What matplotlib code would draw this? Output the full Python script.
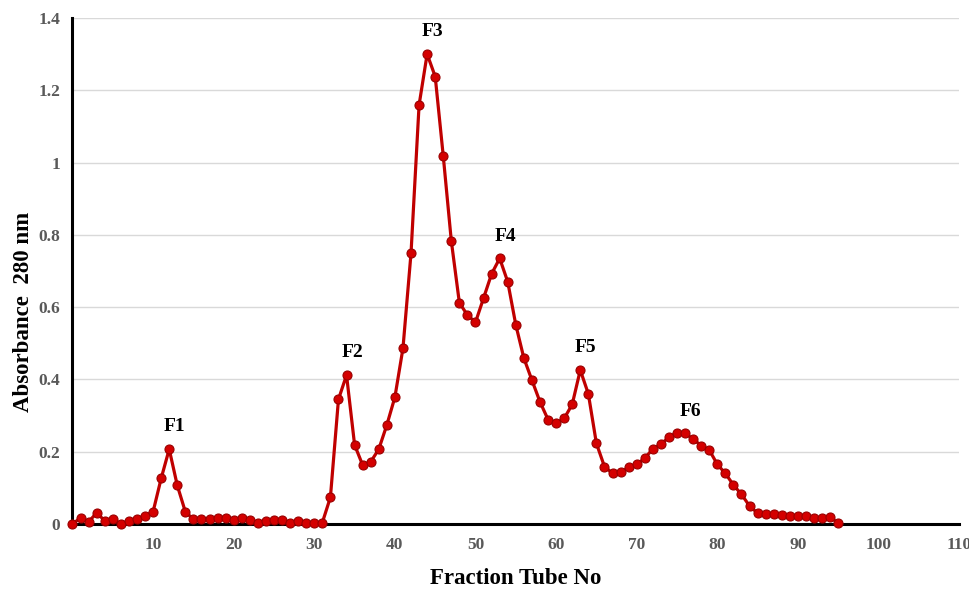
# gel filtration elution profile - absorbance at 280 nm per fraction tube
import matplotlib.pyplot as plt
import numpy as np

tubes = list(range(0, 96))
absorbance = [
    0.000, 0.017, 0.006, 0.031, 0.009, 0.014, 0.000, 0.008, 0.014, 0.023,
    0.034, 0.126, 0.207, 0.107, 0.034, 0.013, 0.013, 0.013, 0.017, 0.016,
    0.010, 0.017, 0.011, 0.004, 0.009, 0.010, 0.011, 0.004, 0.008, 0.004,
    0.004, 0.004, 0.074, 0.345, 0.412, 0.219, 0.163, 0.172, 0.207, 0.274,
    0.351, 0.486, 0.749, 1.159, 1.300, 1.238, 1.018, 0.783, 0.612, 0.578,
    0.558, 0.625, 0.692, 0.735, 0.670, 0.551, 0.459, 0.398, 0.338, 0.289,
    0.279, 0.292, 0.331, 0.426, 0.360, 0.223, 0.159, 0.140, 0.143, 0.157,
    0.165, 0.182, 0.208, 0.221, 0.240, 0.253, 0.251, 0.235, 0.217, 0.205,
    0.165, 0.140, 0.108, 0.082, 0.050, 0.030, 0.028, 0.027, 0.024, 0.022,
    0.022, 0.022, 0.016, 0.016, 0.020, 0.002,
]

# fraction peaks: label and the tube it sits on
peak_names = ['F1', 'F2', 'F3', 'F4', 'F5', 'F6']
peak_tubes = [12, 34, 44, 53, 63, 76]

plt.rcParams['font.family'] = ['Liberation Serif', 'DejaVu Serif']

fig = plt.figure(figsize=(9.69, 5.94), dpi=100)
ax = fig.add_axes([0.0748, 0.1178, 0.915, 0.852])

ax.plot(tubes, absorbance, color='#C00000', linewidth=2.3, marker='o',
        markersize=6.5, markerfacecolor='#D40000', markeredgecolor='#9A0000',
        markeredgewidth=0.8, zorder=3, clip_on=False)

for name, t in zip(peak_names, peak_tubes):
    ax.annotate(name, xy=(t, absorbance[t]), xytext=(4, 16), textcoords='offset points',
                ha='center', va='center', fontsize=14, fontweight='bold', color='black')

ax.set_xlim(0, 110)
ax.set_ylim(0, 1.4)
ax.set_xticks(np.arange(10, 111, 10))
ax.set_yticks(np.arange(0, 1.41, 0.2))
ax.set_yticklabels(['0', '0.2', '0.4', '0.6', '0.8', '1', '1.2', '1.4'])
ax.tick_params(length=0, labelsize=12.5, labelcolor='#595959')
ax.tick_params(axis='y', pad=9)
ax.tick_params(axis='x', pad=9)
for lab in ax.get_xticklabels() + ax.get_yticklabels():
    lab.set_fontweight('bold')

ax.grid(axis='y', color='#D9D9D9', linewidth=1)
ax.set_axisbelow(True)
for s in ['top', 'right']:
    ax.spines[s].set_visible(False)
ax.spines['left'].set_linewidth(2.2)
ax.spines['bottom'].set_linewidth(2.2)

ax.set_xlabel('Fraction Tube No', fontsize=16.5, fontweight='bold', labelpad=11)
ax.set_ylabel('Absorbance  280 nm', fontsize=16.5, fontweight='bold')
ax.yaxis.set_label_coords(-0.043, 0.42)

fig.savefig('out.png', dpi=100)
